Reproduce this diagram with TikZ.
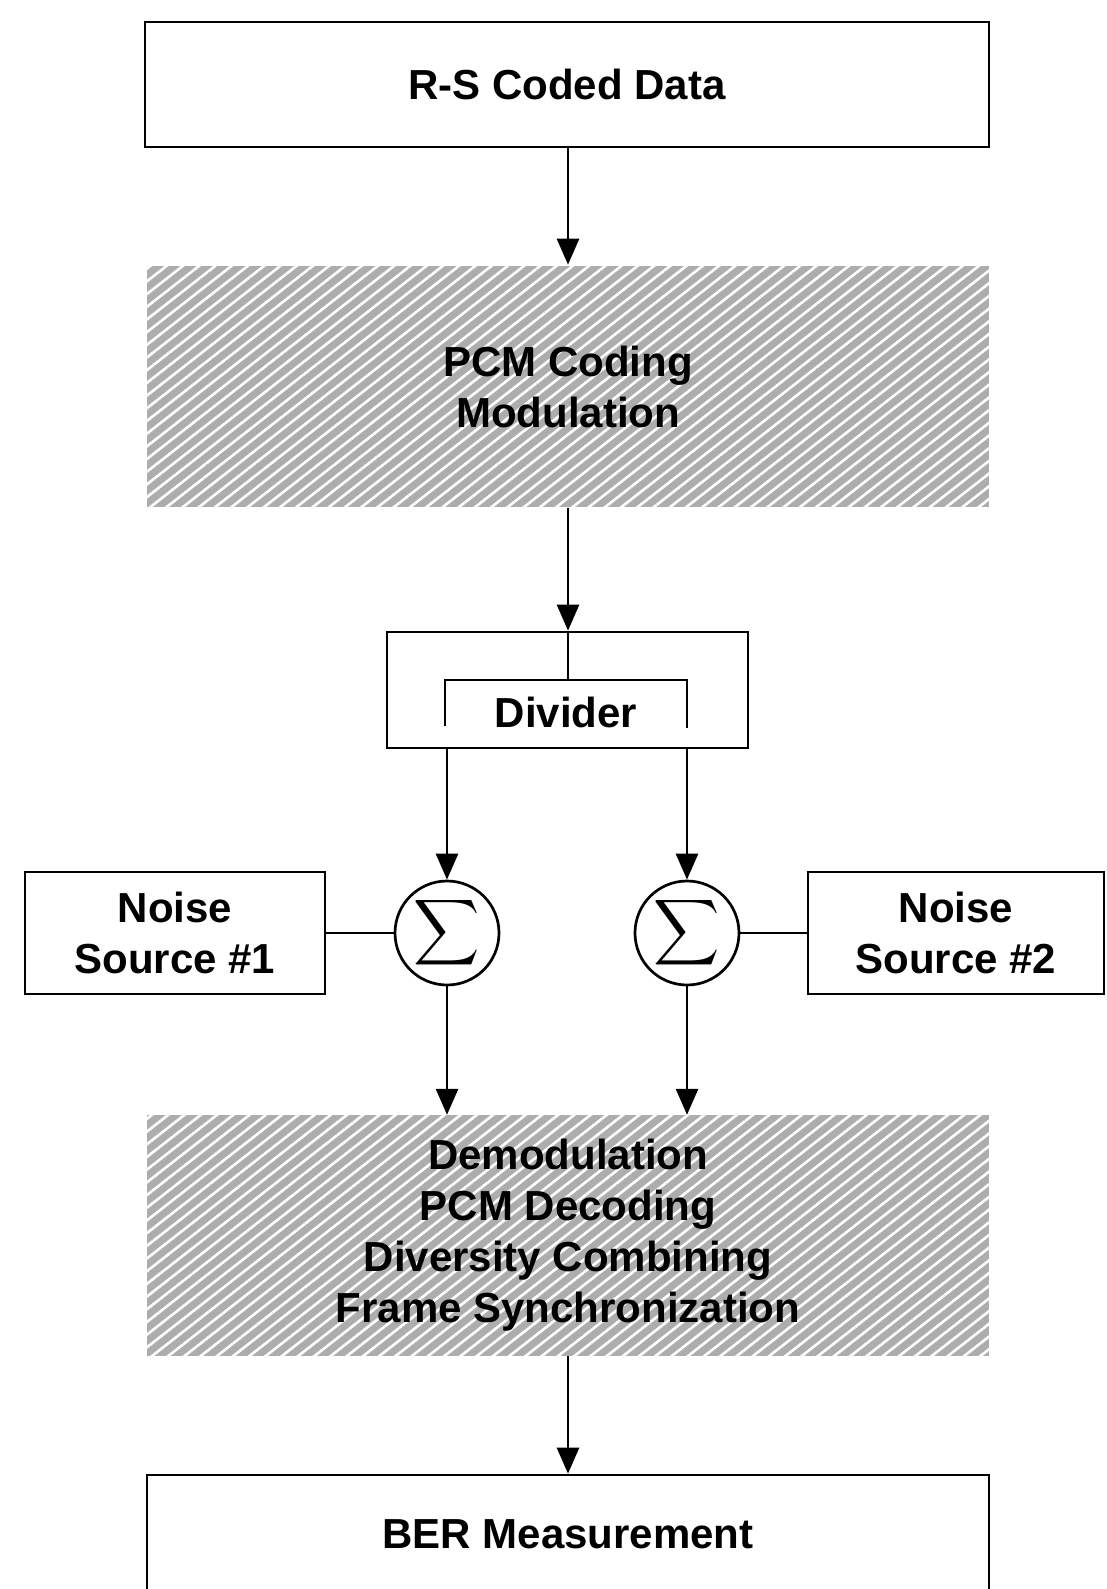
\documentclass[tikz,border=0pt]{standalone}
\usepackage{fontspec}
\setmainfont{Liberation Sans}
\usetikzlibrary{arrows.meta,patterns.meta}
\begin{document}
\begin{tikzpicture}[x=1pt,y=-1pt,
  box/.style={draw=black,line width=2.7pt,rectangle,inner sep=0pt},
  hatchbox/.style={rectangle,inner sep=0pt,
    preaction={fill=black!32},
    pattern={Lines[angle=38,distance=10pt,line width=2.6pt]},pattern color=white},
  lbl/.style={font=\fontsize{42}{51}\selectfont\bfseries,align=center},
  sumnode/.style={circle,draw=black,line width=2.7pt,minimum size=104pt,inner sep=0pt},
  arr/.style={line width=2.7pt,-{Triangle[length=26pt,width=22pt]}},
  ln/.style={line width=2.7pt}]
\useasboundingbox (0,0) rectangle (1106,1589);
% boxes
\node[box,lbl,minimum width=844pt,minimum height=125pt] (top) at (567,84.5) {R-S Coded Data};
\node[hatchbox,lbl,minimum width=842pt,minimum height=241pt] (pcm) at (568,386.5) {PCM Coding\\Modulation};
\node[box,minimum width=361pt,minimum height=116pt] (div) at (567.5,690) {};
\node[lbl] (divlbl) at (566,712) {Divider};
\node[box,lbl,minimum width=300pt,minimum height=122pt] (n1) at (175,933) {Noise\\Source \#1};
\node[box,lbl,minimum width=296pt,minimum height=122pt] (n2) at (956,933) {Noise\\Source \#2};
\node[sumnode] (s1) at (447,933) {\scalebox{4.6}{$\displaystyle\sum$}};
\node[sumnode] (s2) at (687,933) {\scalebox{4.6}{$\displaystyle\sum$}};
\node[hatchbox,lbl,minimum width=842pt,minimum height=241pt] (dem) at (568,1235.5) {Demodulation\\PCM Decoding\\Diversity Combining\\Frame Synchronization};
\node[box,lbl,minimum width=842pt,minimum height=118pt] (ber) at (568,1534) {BER Measurement};
% inner bracket of divider
\coordinate (bl) at (445,726);
\coordinate (br) at (687,728);
\coordinate (bt) at (568,680);
\draw[ln] (bl) |- (bt) -| (br);
% connectors
\draw[arr] (top.south -| pcm.north) -- (pcm.north);
\draw[arr] (pcm.south) -- (div.north -| pcm.south);
\draw[ln] (div.north -| pcm.south) -- (bt);
\draw[arr] (div.south -| s1) -- (s1.north);
\draw[arr] (div.south -| s2) -- (s2.north);
\draw[ln] (n1.east) -- (s1.west);
\draw[ln] (n2.west) -- (s2.east);
\draw[arr] (s1.south) -- (dem.north -| s1);
\draw[arr] (s2.south) -- (dem.north -| s2);
\draw[arr] (dem.south) -- (ber.north);
\end{tikzpicture}
\end{document}
